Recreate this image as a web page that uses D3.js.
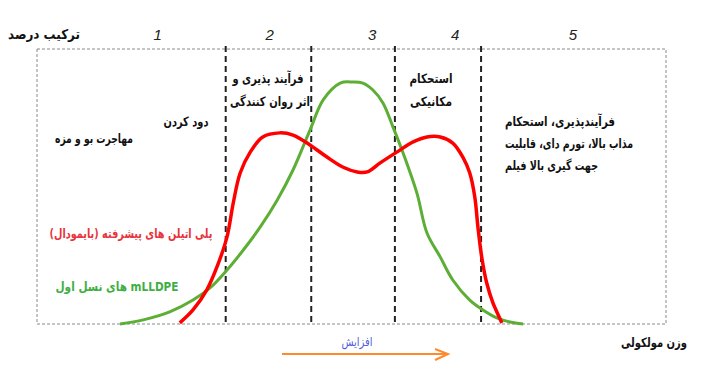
<!DOCTYPE html>
<html>
<head>
<meta charset="utf-8">
<script src="https://cdn.jsdelivr.net/npm/d3@7"></script>
<style>
	body { margin: 0; background: #fff; }
	svg text { font-family: "DejaVu Sans", sans-serif; }
</style>
</head>
<body>
<div id="container"></div>
<script>
// molecular weight axis runs 0..100, composition axis 0..100
var greenX = [13.2, 16.9, 21.1, 24.8, 27.5, 30.2, 32.8, 35.5, 38.2, 40.7, 43.4, 45.5, 48.2, 50.2, 51.8, 53.4, 55.0, 56.6, 58.2, 60.4, 62.0, 64.1, 66.1, 68.8, 70.9, 73.1, 75.2, 77.3];
var greenY = [0, 1.5, 4.4, 8.7, 13.1, 19.6, 26.9, 35.3, 45.1, 56.0, 70.5, 81.5, 87.6, 88.0, 87.6, 85.1, 80.4, 71.6, 62.2, 47.6, 33.1, 24.4, 16.0, 8.7, 5.1, 2.2, 0.7, 0];

var redX = [22.7, 24.8, 27.0, 28.6, 30.2, 31.2, 32.3, 33.9, 35.9, 38.6, 40.7, 43.4, 46.1, 48.6, 50.9, 52.5, 54.5, 57.2, 59.8, 62.0, 64.1, 66.1, 67.7, 68.8, 69.6, 70.1, 70.7, 71.5, 72.5, 73.9];
var redY = [0.4, 5.1, 12.4, 20.7, 31.6, 44.0, 54.9, 62.5, 68.0, 69.5, 68.7, 65.1, 60.7, 57.1, 55.3, 55.3, 58.5, 62.5, 66.2, 68.0, 68.0, 65.8, 60.7, 54.9, 46.2, 35.3, 24.4, 14.9, 7.6, 0.4];

var zoneBounds = [30.0, 43.6, 56.9, 70.6];
var zoneNumbers = ["1", "2", "3", "4", "5"];
var zoneNumberX = [19.2, 37.0, 53.3, 66.5, 85.2];

var seriesNames = ["پلی اتیلن های پیشرفته (بایمودال)", "mLLDPE های نسل اول"];
var yTitle = "ترکیب درصد";
var xTitle = "وزن مولکولی";
var arrowLabel = "افزایش";

(function () {
	var W = 710, H = 375;
	var box = {left: 37, right: 666, top: 49, bottom: 324};

	var x = d3.scaleLinear().domain([0, 100]).range([box.left, box.right]);
	var y = d3.scaleLinear().domain([0, 100]).range([box.bottom, box.top]);

	var svg = d3.select("#container").append("svg")
		.attr("width", W)
		.attr("height", H);

	// frame
	svg.append("rect")
		.attr("x", box.left).attr("y", box.top)
		.attr("width", box.right - box.left).attr("height", box.bottom - box.top)
		.attr("fill", "none")
		.attr("stroke", "#8a8a8a")
		.attr("stroke-width", 1)
		.attr("stroke-dasharray", "3,2");

	// zone dividers
	svg.selectAll(".divider")
		.data(zoneBounds)
		.enter().append("line")
		.attr("class", "divider")
		.attr("x1", d => x(d)).attr("x2", d => x(d))
		.attr("y1", box.top - 3).attr("y2", box.bottom)
		.attr("stroke", "#222")
		.attr("stroke-width", 2)
		.attr("stroke-dasharray", "6,4");

	// zone numbers on top
	svg.selectAll(".zone-num")
		.data(zoneNumbers)
		.enter().append("text")
		.attr("class", "zone-num")
		.attr("x", (d, i) => x(zoneNumberX[i]))
		.attr("y", 40)
		.attr("text-anchor", "middle")
		.style("font-family", "'Liberation Sans', Arial, sans-serif")
		.style("font-style", "italic")
		.style("font-size", "15px")
		.attr("fill", "#222")
		.text(d => d);

	var line = d3.line()
		.x(d => x(d[0]))
		.y(d => y(d[1]))
		.curve(d3.curveCatmullRom.alpha(0.5));

	svg.append("path")
		.datum(greenX.map((v, i) => [v, greenY[i]]))
		.attr("fill", "none")
		.attr("stroke", "#5cae34")
		.attr("stroke-width", 3)
		.attr("d", line);

	svg.append("path")
		.datum(redX.map((v, i) => [v, redY[i]]))
		.attr("fill", "none")
		.attr("stroke", "#ff0000")
		.attr("stroke-width", 3.5)
		.attr("d", line);

	// text helper: fixed width so the wide DejaVu glyphs fit like the original
	function label(t, px, py, w, o) {
		o = o || {};
		return svg.append("text")
			.attr("x", px).attr("y", py)
			.attr("text-anchor", o.anchor || "middle")
			.attr("direction", o.dir || null)
			.attr("textLength", w)
			.attr("lengthAdjust", "spacingAndGlyphs")
			.style("font-size", (o.size || 13) + "px")
			.style("font-weight", o.weight || "bold")
			.attr("fill", o.fill || "#111")
			.text(t);
	}

	// zone descriptions
	label("مهاجرت بو و مزه", 94, 143, 78);
	label("دود کردن", 186, 126, 45);
	label("فرآیند پذیری و", 268, 83, 71);
	label("اثر روان کنندگی", 270, 106, 80);
	label("استحکام", 431, 83, 43);
	label("مکانیکی", 431, 106, 42);
	label("فرآیندپذیری، استحکام", 505, 126, 110, {anchor: "start"});
	label("مذاب بالا، تورم دای، قابلیت", 505, 148, 128, {anchor: "start"});
	label("جهت گیری بالا فیلم", 505, 170, 93, {anchor: "start"});

	// series labels
	label(seriesNames[0], 131, 238, 163, {dir: "rtl", fill: "#e8343c"});
	label(seriesNames[1], 117, 291, 123, {dir: "rtl", fill: "#3fae45"});

	// axis titles
	label(yTitle, 44, 39, 72, {size: 13.5});
	label(xTitle, 654, 347, 66, {size: 13});

	// increase arrow
	svg.append("line")
		.attr("x1", 282).attr("x2", 447)
		.attr("y1", 354).attr("y2", 354)
		.attr("stroke", "#ff8a2e")
		.attr("stroke-width", 2);
	svg.append("path")
		.attr("d", "M435,349 L448,354 L435,360")
		.attr("fill", "none")
		.attr("stroke", "#ff8a2e")
		.attr("stroke-width", 2);

	label(arrowLabel, 357, 346, 31, {size: 12, weight: "normal", fill: "#4f5fdc"});
})();
</script>
</body>
</html>
